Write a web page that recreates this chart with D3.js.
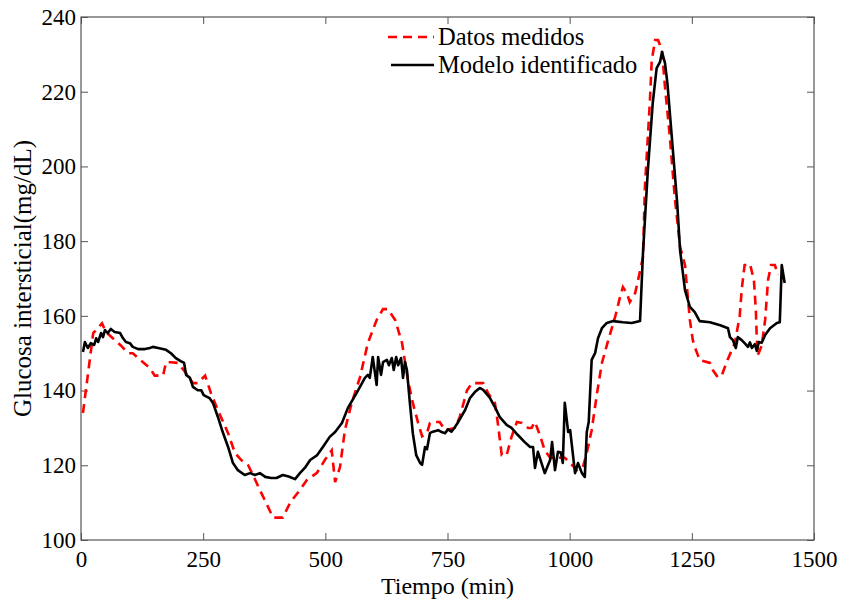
<!DOCTYPE html>
<html>
<head>
<meta charset="utf-8">
<script src="https://cdn.jsdelivr.net/npm/d3@7"></script>
<style>
  body { margin: 0; background: #fff; }
  svg { display: block; font-family: "Liberation Serif", "Times New Roman", serif; }
</style>
</head>
<body>
<div id="chart"></div>
<script>
// ===================== DATA =====================
// Datos medidos (red dashed)
const tMed = [4, 25, 43, 51, 82, 96, 106, 123, 141, 151, 168, 174, 184, 198, 213, 229, 239, 254, 266, 280,
  301, 315, 328, 342, 352, 366, 379, 393, 413, 428, 448, 462, 483, 499, 513, 520, 530, 540, 554, 571,
  587, 605, 618, 628, 643, 657, 669, 679, 690, 698, 708, 714, 720, 734, 745, 765, 775, 790, 800, 823,
  833, 847, 853, 861, 871, 881, 892, 902, 915, 922, 929, 939, 949, 960, 974, 990, 1001, 1015, 1027, 1035,
  1045, 1056, 1066, 1079, 1093, 1103, 1109, 1117, 1123, 1134, 1140, 1150, 1154, 1164, 1168, 1175, 1181, 1189, 1195, 1205,
  1215, 1226, 1236, 1246, 1252, 1256, 1266, 1287, 1293, 1303, 1311, 1323, 1338, 1348, 1352, 1358, 1369, 1377, 1381, 1383,
  1385, 1393, 1400, 1406, 1412, 1420, 1426];
const gMed = [134, 155.4, 158, 155.7, 152, 150, 150, 148, 146, 144, 144, 147.6, 147.6, 147.4, 145, 142, 142, 144, 139.3, 134.8,
  128.6, 123.3, 121.4, 120, 117.4, 113.4, 109.9, 106, 106, 110, 113.4, 116, 118, 121.4, 124, 115.5, 119.5, 129.4, 136.7, 143.6,
  152.7, 158.9, 161.8, 161.8, 158.9, 152.7, 142.8, 136.7, 131.3, 127.8, 128.6, 131.3, 131.6, 131.6, 129.4, 130, 132.9, 140.1, 142, 142,
  139.3, 136.7, 131.3, 122.7, 122.7, 127.6, 131.6, 131.3, 130, 130, 131.6, 128.1, 124, 122, 122, 122, 120.6, 118.7, 119.5, 123.3,
  129.4, 139.3, 147.4, 153.5, 159.7, 165, 167.7, 166.1, 163.7, 166.1, 169.6, 175.7, 194.5, 217, 228.5, 233.8, 233.8, 231, 221.3, 207.9,
  191.8, 178.4, 173.6, 158.9, 153.5, 151.7, 148.2, 147.4, 145.5, 143.6, 144, 148.2, 152.7, 160, 167, 173.6, 173.9, 169.6, 161.6, 153.5,
  149.5, 152, 158.9, 169.6, 173.6, 173.6, 171];

// Modelo identificado (black solid)
const tMod = [4, 8, 14, 20, 27, 31, 35, 41, 45, 49, 55, 61, 69, 80, 86, 92, 100, 106, 117, 131,
  141, 147, 158, 174, 184, 194, 204, 211, 215, 223, 229, 239, 246, 251, 263, 270, 280, 290, 301, 311,
  321, 335, 346, 356, 366, 377, 389, 400, 413, 425, 438, 448, 458, 469, 483, 495, 509, 520, 534, 546,
  565, 581, 587, 591, 597, 605, 608, 614, 618, 626, 630, 636, 640, 645, 649, 655, 659, 663, 667, 673,
  679, 686, 694, 698, 704, 708, 714, 720, 731, 738, 745, 751, 758, 765, 772, 786, 796, 806, 816, 823,
  837, 847, 857, 871, 881, 894, 908, 919, 925, 929, 935, 949, 960, 964, 970, 976, 982, 986, 990, 997,
  1001, 1011, 1017, 1025, 1031, 1035, 1039, 1045, 1052, 1058, 1066, 1076, 1089, 1109, 1127, 1144, 1150, 1160, 1170, 1178,
  1185, 1189, 1195, 1200, 1209, 1220, 1226, 1236, 1246, 1256, 1266, 1287, 1308, 1324, 1328, 1334, 1340, 1344, 1352, 1358,
  1365, 1369, 1373, 1379, 1383, 1387, 1393, 1400, 1410, 1424, 1430, 1434, 1440];
const gMod = [150.3, 153, 151.4, 152.7, 152.2, 154, 153, 155.4, 154.3, 156.2, 155.4, 156.5, 155.7, 155.4, 154, 153, 152.7, 151.7, 151.1, 151.1,
  151.4, 151.7, 151.4, 150.9, 150, 148.7, 147.9, 147.4, 144.2, 143.4, 141, 140.1, 140.1, 138.8, 138, 136.7, 133, 128.9, 124.9, 120.6,
  118.7, 117.4, 117.9, 117.4, 117.9, 116.9, 116.6, 116.6, 117.4, 117, 116.3, 117.9, 119.3, 121.4, 122.7, 124.9, 127.6, 128.9, 131.3, 135.3,
  139.6, 143.4, 144.2, 143.4, 149, 141.5, 149, 144.2, 147.6, 148.2, 146.8, 148.7, 145.5, 149, 146.8, 148.7, 143.4, 147.6, 145.5, 136.7,
  128.6, 122.7, 120.6, 120.1, 124.9, 124.3, 128.6, 129, 129.4, 128.9, 128.6, 129.6, 129, 130.2, 131.6, 134.8, 138, 139.6, 140.7, 140.2,
  138, 135.6, 132.9, 130.8, 130, 128.1, 126.2, 124.9, 124.9, 119.3, 123.6, 117.9, 121.4, 126.2, 118.7, 123.6, 123.4, 120.6, 136.7, 128.9,
  129.4, 117.9, 120.6, 117.9, 116.9, 128.9, 131.6, 148.2, 150, 154, 156.7, 158.1, 158.6, 158.3, 158.1, 158.6, 176.8, 199, 217, 226.3,
  228, 230.6, 227.7, 222.3, 207.9, 190.2, 177.5, 166.9, 162.4, 161, 158.6, 158.3, 157.5, 156.7, 154.3, 153.5, 151.4, 154.3, 153.5, 152.7,
  151.7, 152.9, 151.4, 152.4, 150.6, 153, 152.8, 154.9, 156.7, 158.1, 158.3, 173.6, 168.8];

const xTicks = [0, 250, 500, 750, 1000, 1250, 1500];
const yTicks = [100, 120, 140, 160, 180, 200, 220, 240];
const seriesNames = ["Datos medidos", "Modelo identificado"];

// ===================== CHART =====================
const width = 841, height = 599;
const margin = { left: 81, right: 27, top: 17, bottom: 59 };
const serif = "'Liberation Serif', 'Times New Roman', serif";

const svg = d3.select("#chart").append("svg")
  .attr("width", width)
  .attr("height", height);

const x = d3.scaleLinear().domain([0, 1500]).range([margin.left, width - margin.right]);
const y = d3.scaleLinear().domain([100, 240]).range([height - margin.bottom, margin.top]);

const axisColor = "#555";
function styleAxis(g, showLabels) {
  g.attr("font-family", serif).attr("font-size", 23);
  g.select(".domain").remove();
  g.selectAll(".tick line").attr("stroke", axisColor);
  g.selectAll(".tick text").attr("fill", "#000");
  if (!showLabels) g.selectAll(".tick text").remove();
}

// axes (ticks point inward)
svg.append("g")
  .attr("transform", `translate(0,${y(100)})`)
  .call(d3.axisBottom(x).tickValues(xTicks).tickFormat(d3.format("d")).tickSize(-7).tickPadding(11))
  .call(g => styleAxis(g, true));

svg.append("g")
  .attr("transform", `translate(0,${y(240)})`)
  .call(d3.axisTop(x).tickValues(xTicks).tickSize(-7))
  .call(g => styleAxis(g, false));

svg.append("g")
  .attr("transform", `translate(${x(0)},0)`)
  .call(d3.axisLeft(y).tickValues(yTicks).tickFormat(d3.format("d")).tickSize(-7).tickPadding(5))
  .call(g => styleAxis(g, true));

svg.append("g")
  .attr("transform", `translate(${x(1500)},0)`)
  .call(d3.axisRight(y).tickValues(yTicks).tickSize(-7))
  .call(g => styleAxis(g, false));

// box
svg.append("rect")
  .attr("x", x(0)).attr("y", y(240))
  .attr("width", x(1500) - x(0)).attr("height", y(100) - y(240))
  .attr("fill", "none").attr("stroke", axisColor).attr("stroke-width", 1.2);

// lines
const line = d3.line().x(d => x(d[0])).y(d => y(d[1]));
const med = tMed.map((t, i) => [t, gMed[i]]);
const mod = tMod.map((t, i) => [t, gMod[i]]);

svg.append("path")
  .datum(med)
  .attr("d", line)
  .attr("fill", "none")
  .attr("stroke", "#ff0000")
  .attr("stroke-width", 2.6)
  .attr("stroke-dasharray", "9,6");

svg.append("path")
  .datum(mod)
  .attr("d", line)
  .attr("fill", "none")
  .attr("stroke", "#000")
  .attr("stroke-width", 2.6)
  .attr("stroke-linejoin", "round");

// legend
const legend = svg.append("g").attr("transform", "translate(388,0)");
legend.append("line")
  .attr("x1", 0).attr("x2", 46).attr("y1", 37).attr("y2", 37)
  .attr("stroke", "#ff0000").attr("stroke-width", 2.6).attr("stroke-dasharray", "9,6");
legend.append("line")
  .attr("x1", 3).attr("x2", 46).attr("y1", 65).attr("y2", 65)
  .attr("stroke", "#000").attr("stroke-width", 2.6);
legend.selectAll("text.leg")
  .data(seriesNames)
  .enter().append("text")
  .attr("class", "leg")
  .attr("x", 50)
  .attr("y", (d, i) => 45 + i * 28)
  .attr("font-family", serif)
  .attr("font-size", 24.5)
  .text(d => d);

// axis titles
svg.append("text")
  .attr("x", (x(0) + x(1500)) / 2)
  .attr("y", 594)
  .attr("text-anchor", "middle")
  .attr("font-family", serif)
  .attr("font-size", 24)
  .text("Tiempo (min)");

svg.append("text")
  .attr("transform", `translate(31,${(y(100) + y(240)) / 2}) rotate(-90)`)
  .attr("text-anchor", "middle")
  .attr("font-family", serif)
  .attr("font-size", 25)
  .text("Glucosa intersticial(mg/dL)");
</script>
</body>
</html>
